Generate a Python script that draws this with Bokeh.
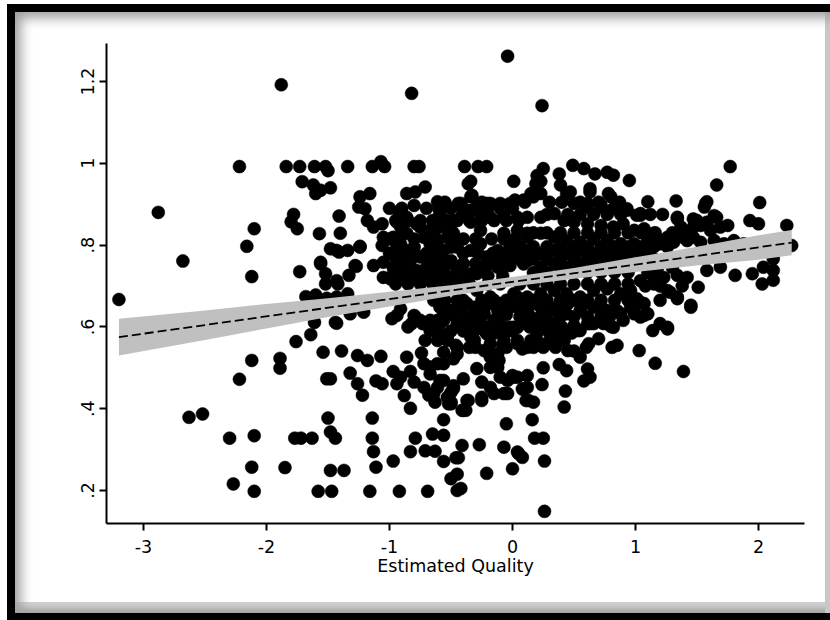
import math
from bokeh.plotting import figure
from bokeh.models import FixedTicker, Label
from bokeh.embed import file_html
from bokeh.resources import INLINE

# ---------------- data ----------------
# (estimated quality, price per unit) pairs grouped by region of the cloud
pts_sparse_left = [(-3.20,0.667),(-2.88,0.880),(-2.68,0.761),(-2.63,0.379),(-2.52,0.387),(-2.30,0.328),
    (-2.27,0.216),(-2.22,0.472),(-2.12,0.518),(-2.10,0.334),(-2.12,0.257),(-2.10,0.198),(-2.12,0.723),
    (-2.22,0.992),(-2.10,0.840),(-2.16,0.797),(-1.88,1.192),(-0.82,1.171),(-0.04,1.262),(0.24,1.141),(0.26,0.149)]
pts_left_a = [(-1.89,0.523),(-1.89,0.499),(-1.85,0.256),(-1.76,0.564),(-1.73,0.735),(-1.77,0.328),(-1.72,0.328),
    (-1.63,0.328),(-1.64,0.581),(-1.68,0.674),(-1.60,0.678),(-1.51,0.670),(-1.61,0.611),(-1.54,0.538),(-1.58,0.198),
    (-1.47,0.198),(-1.48,0.249),(-1.37,0.249),(-1.50,0.377),(-1.48,0.343),(-1.44,0.328),(-1.51,0.473),(-1.48,0.473),
    (-1.43,0.609),(-1.52,0.705),(-1.42,0.705),(-1.56,0.754),(-1.52,0.730)]
pts_left_b = [(-1.39,0.541),(-1.33,0.726),(-1.27,0.748),(-1.34,0.681),(-1.32,0.487),(-1.26,0.461),(-1.22,0.433),
    (-1.26,0.530),(-1.18,0.518),(-1.32,0.632),(-1.21,0.636),(-1.16,0.198),(-1.14,0.377),(-1.14,0.328),(-1.13,0.295),
    (-1.11,0.257),(-1.11,0.468),(-1.06,0.461),(-1.07,0.528)]
pts_low_mid = [(-0.97,0.272),(-0.92,0.198),(-0.69,0.198),(-0.97,0.491),(-0.94,0.461),(-0.88,0.432),(-0.83,0.401),
    (-0.86,0.526),(-0.74,0.536),(-0.98,0.620),(-0.91,0.644),(-0.80,0.628),(-0.73,0.608),(-0.71,0.567),(-0.79,0.328),
    (-0.83,0.295),(-0.71,0.297),(-0.63,0.296),(-0.56,0.271),(-0.65,0.338),(-0.56,0.335),(-0.56,0.373),(-0.68,0.433),
    (-0.63,0.416),(-0.52,0.412),(-0.50,0.229),(-0.45,0.200),(-0.67,0.591),(-0.61,0.567),(-0.56,0.538),(-0.80,0.465),
    (-0.67,0.502),(-0.61,0.510),(-0.50,0.416),(-0.41,0.396),(-0.37,0.420),(-0.46,0.280),(-0.44,0.280),(-0.45,0.240),
    (-0.42,0.205),(-0.41,0.310),(-0.27,0.312),(-0.21,0.242),(-0.07,0.306),(0.00,0.253),(0.05,0.290),(-0.05,0.363),
    (-0.29,0.498),(-0.25,0.465),(-0.19,0.534),(-0.08,0.555),(-0.12,0.501),(-0.15,0.437),(0.00,0.481),(0.09,0.448),
    (0.11,0.420),(-0.40,0.473),(-0.36,0.420),(-0.40,0.396),(-0.48,0.456),(-0.50,0.440),(-0.25,0.420),(-0.07,0.437)]
pts_low_right = [(0.26,0.272),(0.04,0.294),(0.08,0.281),(0.18,0.328),(0.25,0.328),(0.16,0.373),(0.42,0.404),
    (0.43,0.443),(0.24,0.459),(0.12,0.481),(0.08,0.448),(0.13,0.420),(0.17,0.416),(0.25,0.500),(0.38,0.508),
    (0.44,0.493),(0.61,0.497),(0.63,0.477),(0.58,0.468),(0.50,0.541),(0.55,0.526),(0.81,0.550),(0.85,0.555),
    (1.03,0.542),(1.16,0.511),(1.39,0.491),(1.14,0.591),(1.26,0.595),(0.80,0.601),(0.70,0.571),(0.62,0.559),
    (0.61,0.608),(-0.11,0.518),(-0.48,0.449),(-0.50,0.412),(-0.38,0.396),(-0.25,0.428),(-0.04,0.437),(-0.10,0.477),
    (0.01,0.477),(-0.56,0.469),(-0.48,0.522),(-0.46,0.555),(0.08,0.546),(0.15,0.567),(0.23,0.559),(0.28,0.559),
    (0.34,0.587),(0.39,0.575),(0.42,0.567),(0.28,0.616),(0.38,0.599),(0.53,0.591),(-0.42,0.608),(-0.31,0.599),
    (-0.23,0.591),(-0.15,0.616),(-0.02,0.599),(0.07,0.608),(0.17,0.616),(0.99,0.632),(1.07,0.628),(1.04,0.660),
    (1.45,0.648),(1.51,0.697),(1.34,0.669),(1.28,0.685),(2.03,0.705),(2.12,0.714),(1.81,0.726),(1.95,0.730),
    (2.04,0.746),(1.69,0.746),(1.58,0.738),(1.15,0.721)]
pts_up_right = [(2.23,0.848),(2.27,0.799),(2.12,0.766),(2.12,0.738),(2.01,0.904),(1.93,0.860),(2.00,0.852),
    (1.66,0.947),(1.77,0.992),(1.58,0.906),(1.56,0.893),(1.66,0.868),(1.75,0.848),(1.50,0.860),(1.58,0.852),
    (1.33,0.908),(1.34,0.864),(1.37,0.844),(1.10,0.906),(1.04,0.873),(1.15,0.829),(1.20,0.812),(0.95,0.958),
    (0.93,0.885),(0.80,0.918),(0.82,0.971),(0.77,0.978),(0.67,0.974),(0.58,0.987),(0.49,0.995),(0.38,0.974),
    (0.25,0.987),(0.20,0.970),(0.63,0.938),(0.39,0.947),(0.23,0.956),(0.01,0.956),(-0.34,0.956),(-0.39,0.992),
    (-0.28,0.992),(-0.21,0.992),(-0.34,0.918),(-0.42,0.902),(-0.18,0.902),(-0.10,0.902),(0.02,0.910),(0.17,0.918),
    (0.23,0.926),(0.44,0.926),(0.78,0.926),(0.50,0.856),(0.61,0.893),(0.72,0.893),(1.01,0.873),(1.31,0.819),
    (1.39,0.819),(1.47,0.819),(1.64,0.811),(1.72,0.803),(1.80,0.811),(1.88,0.803)]
pts_up_left = [(-1.84,0.992),(-1.73,0.992),(-1.61,0.992),(-1.52,0.992),(-1.50,0.982),(-1.34,0.992),(-1.14,0.992),
    (-1.07,1.004),(-1.04,0.992),(-0.80,0.992),(-0.76,0.992),(-1.71,0.955),(-1.62,0.947),(-1.60,0.926),(-1.48,0.940),
    (-1.56,0.934),(-1.78,0.875),(-1.80,0.857),(-1.75,0.840),(-1.57,0.828),(-1.41,0.871),(-1.40,0.829),(-1.48,0.791),
    (-1.41,0.783),(-1.34,0.787),(-1.24,0.797),(-1.56,0.758),(-1.43,0.713),(-1.24,0.918),(-1.16,0.926),(-1.25,0.893),
    (-1.20,0.889),(-1.18,0.860),(-1.13,0.844),(-1.06,0.852),(-1.05,0.819),(-1.06,0.799),(-1.13,0.750),(-1.05,0.758),
    (-0.97,0.746),(-0.90,0.754),(-0.83,0.762),(-0.92,0.877),(-0.86,0.868),(-0.94,0.856),(-0.88,0.829),(-0.94,0.795),
    (-0.86,0.926),(-0.79,0.930),(-0.71,0.942),(-0.80,0.897),(-0.61,0.906),(-0.59,0.877),(-0.44,0.902),(-0.75,0.844),
    (-0.64,0.848),(-0.53,0.860),(-0.48,0.829),(-0.80,0.795),(-0.67,0.811),(-0.61,0.807),(-0.50,0.795)]
pts_core_left = [(-1.43,0.787),(-1.24,0.795),(-1.28,0.750),(-1.05,0.721),(-0.97,0.730),(-0.91,0.750),(-0.36,0.950),
    (-0.33,0.922),(-0.21,0.902),(-0.02,0.902),(-0.41,0.873),(-0.34,0.856),(-0.48,0.860),(-0.50,0.836),(-0.91,0.844),
    (-0.97,0.819),(-0.86,0.829),(-0.78,0.852),(-0.72,0.819),(-0.67,0.836),(-0.59,0.844),(-0.53,0.819),(-0.48,0.811),
    (-0.91,0.803),(-0.86,0.787),(-0.75,0.771),(-0.67,0.803),(-0.56,0.787),(-0.50,0.762),(-0.45,0.795),(-0.34,0.787),
    (-0.26,0.803),(-0.21,0.771),(-0.12,0.787),(-0.02,0.795),(0.07,0.787),(0.12,0.762),(-0.34,0.885),(-0.26,0.877),
    (-0.18,0.868),(-0.07,0.877),(0.04,0.868),(0.12,0.868),(-0.26,0.836),(-0.07,0.829),(0.04,0.836),(0.12,0.829),
    (-0.86,0.746),(-0.78,0.738),(-0.67,0.730),(-0.56,0.734),(-0.45,0.738),(-0.34,0.730),(-0.23,0.746),(-0.12,0.746),
    (-0.02,0.750),(0.09,0.754),(-1.43,0.673),(-1.44,0.611),(-0.94,0.628),(-0.79,0.624),(-0.82,0.608),(-0.64,0.665),
    (-0.59,0.648),(-0.50,0.640),(-0.59,0.608),(-0.40,0.665),(-0.31,0.648),(-0.18,0.657),(-0.12,0.624),(-0.02,0.648),
    (0.04,0.673),(0.11,0.632),(-0.99,0.717),(-0.83,0.726),(-0.72,0.724),(-0.61,0.717),(-0.50,0.721),(-0.40,0.726),
    (-0.29,0.730),(-0.29,0.689),(-0.18,0.673),(-0.07,0.657),(0.01,0.681),(0.09,0.648),(-0.34,0.624),(-0.23,0.632),
    (-0.12,0.640),(0.12,0.616)]
pts_core_right = [(0.19,0.950),(0.15,0.926),(0.09,0.910),(0.47,0.930),(0.63,0.930),(1.57,0.902),(0.50,0.902),
    (0.61,0.902),(0.72,0.897),(0.82,0.889),(0.93,0.889),(1.04,0.877),(1.34,0.868),(1.47,0.864),(1.58,0.856),
    (1.64,0.872),(0.23,0.868),(0.34,0.877),(0.42,0.860),(0.61,0.852),(0.72,0.848),(0.82,0.844),(0.90,0.852),
    (0.99,0.836),(1.07,0.840),(1.26,0.819),(1.37,0.832),(1.47,0.844),(1.53,0.848),(1.61,0.836),(1.69,0.844),
    (0.12,0.819),(0.23,0.829),(0.34,0.819),(0.44,0.811),(0.55,0.807),(0.66,0.815),(0.77,0.811),(0.88,0.803),
    (0.99,0.803),(1.10,0.811),(1.20,0.803),(1.31,0.807),(1.42,0.811),(1.53,0.807),(0.12,0.787),(0.23,0.779),
    (0.34,0.787),(0.44,0.779),(0.55,0.787),(0.66,0.779),(0.77,0.787),(0.88,0.779),(0.99,0.787),(1.10,0.787),
    (0.23,0.746),(0.34,0.754),(0.44,0.746),(0.55,0.754),(0.66,0.754),(0.77,0.758),(0.88,0.762),(1.23,0.721),
    (1.34,0.726),(1.42,0.721),(1.45,0.653),(1.34,0.673),(1.26,0.689),(1.15,0.705),(1.04,0.713),(0.96,0.689),
    (1.01,0.669),(0.88,0.681),(0.77,0.693),(0.66,0.689),(0.55,0.673),(0.44,0.681),(0.34,0.689),(0.23,0.681),
    (0.12,0.673),(0.12,0.640),(0.23,0.648),(0.34,0.640),(0.44,0.632),(0.55,0.640),(0.66,0.648),(0.77,0.640),
    (0.88,0.632),(0.99,0.648),(1.10,0.632),(1.20,0.608),(1.26,0.599),(0.23,0.603),(0.34,0.608),(0.50,0.603),
    (0.63,0.608),(0.74,0.608),(0.82,0.599)]
pts_mid_low = [(-0.72,0.608),(-0.61,0.616),(-0.45,0.608),(-0.34,0.599),(-0.07,0.599),(0.04,0.599),(-0.07,0.567),
    (-0.12,0.534),(-0.18,0.501),(0.04,0.559),(0.12,0.550),(0.04,0.477),(-0.04,0.469),(-0.18,0.452),(0.12,0.452),
    (-0.72,0.510),(-0.67,0.485),(-0.59,0.469),(-0.53,0.428),(-0.64,0.437),(-0.83,0.491),(-0.91,0.477),(-0.72,0.452),
    (-0.61,0.452),(-0.75,0.616),(-0.67,0.616),(-0.56,0.616),(-0.31,0.591),(-0.21,0.583),(-0.07,0.583),(-0.40,0.608),
    (-0.53,0.567),(-0.45,0.550),(-0.34,0.575),(-0.23,0.542),(-0.18,0.526),(-0.56,0.632),(-0.53,0.575),(-0.45,0.534),
    (-0.56,0.510)]
pts_dense_low = [(-0.37,0.657),(-0.23,0.648),(-0.10,0.657),(0.04,0.648),(0.17,0.657),(0.31,0.648),(0.45,0.657),
    (0.58,0.657),(0.72,0.648),(0.85,0.640),(0.96,0.648),(1.07,0.657),(-0.40,0.616),(-0.26,0.608),(-0.12,0.616),
    (0.01,0.599),(0.15,0.624),(0.28,0.608),(0.42,0.591),(0.55,0.591),(0.66,0.608),(0.90,0.616),(1.04,0.624),
    (-0.31,0.567),(-0.18,0.559),(0.04,0.567),(0.17,0.550),(0.31,0.567),(0.45,0.542)]
# points packed into the solid black core of the cloud
pts_core_fill_right = [(0.17,0.830),(0.28,0.830),(0.39,0.830),(0.50,0.830),(0.61,0.830),(0.72,0.830),(0.83,0.830),
    (0.94,0.830),(1.05,0.830),(1.16,0.830),(1.30,0.830),(1.42,0.830),(0.06,0.796),(0.17,0.796),(0.28,0.796),
    (0.39,0.796),(0.50,0.796),(0.61,0.796),(0.72,0.796),(0.83,0.796),(0.94,0.796),(1.05,0.796),(1.15,0.796),
    (1.26,0.796),(0.06,0.766),(0.17,0.766),(0.28,0.766),(0.39,0.766),(0.50,0.766),(0.61,0.766),(0.72,0.766),
    (0.83,0.766),(0.94,0.766),(1.05,0.766),(1.15,0.766),(0.17,0.733),(0.28,0.733),(0.39,0.733),(0.50,0.733),
    (0.61,0.733),(0.72,0.733),(0.83,0.733),(0.94,0.733),(1.10,0.733),(0.06,0.705),(0.17,0.705),(0.28,0.705),
    (0.39,0.705),(0.50,0.705),(0.61,0.705),(0.72,0.705),(0.83,0.705),(0.94,0.705),(-0.05,0.665),(0.06,0.665),
    (0.17,0.665),(0.28,0.665),(0.39,0.665),(0.50,0.665),(0.61,0.665),(0.72,0.665),(0.83,0.665),(0.94,0.665),
    (1.20,0.665),(0.06,0.625),(0.23,0.625),(0.39,0.625),(0.50,0.625),(0.61,0.625),(0.72,0.625),(0.79,0.625),
    (-0.15,0.585),(0.20,0.585),(0.30,0.585),(0.48,0.585),(1.08,0.700),(1.20,0.700),(1.38,0.700),(1.18,0.745),
    (1.30,0.745),(0.10,0.905),(0.30,0.905),(0.40,0.905),(0.55,0.905),(0.70,0.905),(0.87,0.905),(0.28,0.875),
    (0.45,0.875),(0.55,0.875),(0.66,0.875),(0.77,0.875),(0.88,0.875),(1.12,0.875),(1.22,0.875),(0.28,0.645),
    (0.40,0.645),(0.14,0.600),(0.40,0.600),(-0.05,0.550),(0.25,0.550),(0.35,0.550),(0.60,0.550)]
pts_core_fill_left = [(-1.00,0.890),(-0.90,0.890),(-0.70,0.890),(-0.60,0.890),(-0.50,0.890),(-0.40,0.890),
    (-0.30,0.890),(-0.20,0.890),(-0.10,0.890),(0.00,0.890),(-0.95,0.860),(-0.85,0.860),(-0.75,0.860),(-0.65,0.860),
    (-0.55,0.860),(-0.45,0.860),(-0.35,0.860),(-0.25,0.860),(-0.15,0.860),(-0.05,0.860),(0.05,0.860),(-1.00,0.815),
    (-0.80,0.815),(-0.62,0.815),(-0.40,0.815),(-0.30,0.815),(-0.17,0.815),(-0.07,0.815),(0.02,0.815),(-1.00,0.780),
    (-0.90,0.780),(-0.80,0.780),(-0.70,0.780),(-0.62,0.780),(-0.40,0.780),(-0.28,0.780),(-0.16,0.780),(-0.06,0.780),
    (0.02,0.780),(-0.63,0.755),(-0.52,0.755),(-0.40,0.755),(-0.30,0.755),(-0.18,0.755),(-0.08,0.755),(-0.95,0.705),
    (-0.85,0.705),(-0.75,0.705),(-0.65,0.705),(-0.55,0.705),(-0.45,0.705),(-0.35,0.705),(-0.20,0.705),(-0.10,0.705),
    (-0.55,0.665),(-0.45,0.665),(-0.25,0.665),(-0.15,0.665),(-0.50,0.630),(-0.40,0.630),(-0.30,0.630),(-0.05,0.630),
    (-0.60,0.590),(-0.50,0.590),(-0.40,0.590),(-0.10,0.590),(0.00,0.590),(-0.55,0.905),(-0.25,0.905),
    (-0.70,0.745),(-0.60,0.745),(-0.95,0.770),(-0.85,0.770),(-0.68,0.770),(-0.58,0.770),(-0.10,0.770),(0.00,0.770),
    (-0.92,0.725),(-0.78,0.725),(-0.55,0.725),(-0.35,0.725),(-0.20,0.725),(-0.08,0.725),(-0.55,0.645),(-0.45,0.645),
    (-0.85,0.600),(-0.30,0.600),(-0.20,0.600),(-0.35,0.550),(-0.30,0.550)]

# linear fit and its 95% confidence band
fit_x = [-3.20, 2.27]
fit_y = [0.575, 0.806]
band_x = [-3.20, -2.5, -2.0, -1.5, -1.0, -0.5, 0.0, 0.5, 1.0, 1.5, 2.0, 2.27]
band_lo = [0.530, 0.568, 0.596, 0.624, 0.650, 0.676, 0.699, 0.718, 0.734, 0.750, 0.764, 0.775]
band_hi = [0.620, 0.640, 0.656, 0.670, 0.686, 0.702, 0.722, 0.744, 0.770, 0.796, 0.824, 0.837]

x_ticks = [-3, -2, -1, 0, 1, 2]
x_tick_labels = ["-3", "-2", "-1", "0", "1", "2"]
y_ticks = [0.2, 0.4, 0.6, 0.8, 1.0, 1.2]
y_tick_labels = [".2", ".4", ".6", ".8", "1", "1.2"]

groups = [pts_sparse_left, pts_left_a, pts_left_b, pts_low_mid, pts_low_right, pts_up_right,
          pts_up_left, pts_core_left, pts_core_right, pts_mid_low, pts_dense_low,
          pts_core_fill_right, pts_core_fill_left]
quality = [q for g in groups for (q, _) in g]
price = [v for g in groups for (_, v) in g]

FONT = "DejaVu Sans"
FS = "17.5px"

p = figure(width=830, height=620, output_backend="svg", toolbar_location=None,
           x_range=(-3.301, 2.374), y_range=(0.1193, 1.2929),
           min_border_left=106, min_border_right=26, min_border_top=43, min_border_bottom=97,
           background_fill_color=None, border_fill_color=None, outline_line_color=None)
p.styles = {
    "background-color": "white",
    "box-shadow": ("inset 7px 4px 0 0 #fff, inset 15px 12px 0 0 #000, inset 0 -7px 0 0 #000, "
                   "inset 21px 18px 12px 0 #a0a0a0, inset -5px 0 0 0 #c8c8c8, "
                   "inset 0 -12px 5px 0 #a8a8a8, inset 0 -18px 0 0 #d0d0d0"),
}
p.grid.visible = False

p.scatter(quality, price, size=13, fill_color="black", line_color="black", line_width=0.5)
p.varea(x=band_x, y1=band_lo, y2=band_hi, fill_color="#c0c0c0")
p.line(fit_x, fit_y, line_color="black", line_width=1.8, line_dash="9 4")

for ax in (p.xaxis[0], p.yaxis[0]):
    ax.axis_line_width = 2
    ax.axis_line_color = "black"
    ax.major_tick_line_width = 2
    ax.major_tick_in = 0
    ax.major_tick_out = 7
    ax.minor_tick_line_color = None
    ax.major_label_text_font = FONT
    ax.major_label_text_font_size = FS
    ax.major_label_text_color = "black"

p.xaxis.ticker = FixedTicker(ticks=x_ticks)
p.xaxis.major_label_overrides = {t: s for t, s in zip(x_ticks, x_tick_labels)}
p.xaxis.major_label_standoff = 9
p.xaxis.axis_label = "Estimated Quality"
p.xaxis.axis_label_text_font = FONT
p.xaxis.axis_label_text_font_size = FS
p.xaxis.axis_label_text_font_style = "normal"
p.xaxis.axis_label_text_color = "black"
p.xaxis.axis_label_standoff = 0

p.yaxis.ticker = FixedTicker(ticks=y_ticks)
p.yaxis.major_label_overrides = {t: s for t, s in zip(y_ticks, y_tick_labels)}
p.yaxis.major_label_orientation = "vertical"
p.yaxis.major_label_standoff = 5

ylab = Label(x=-3.301, y=0.674, x_offset=-47, text="Price per Unit", angle=math.pi / 2,
             text_align="center", text_baseline="middle", text_font=FONT,
             text_font_size=FS, text_color="black")
p.add_layout(ylab)

open("out.html", "w").write(file_html(p, INLINE))
